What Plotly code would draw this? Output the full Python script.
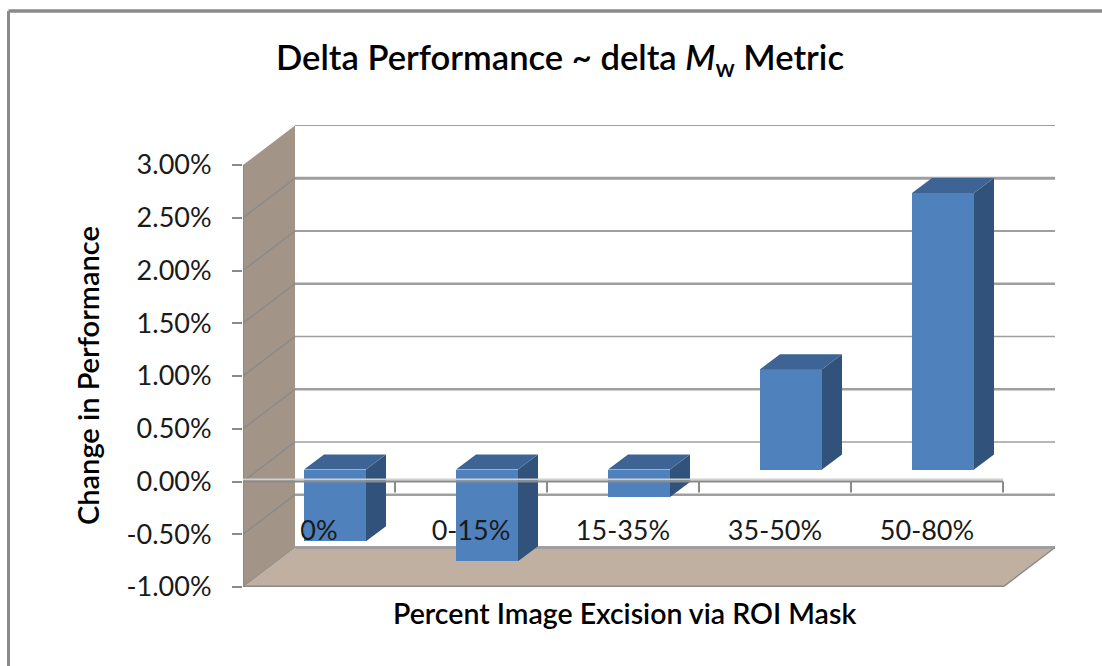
import plotly.graph_objects as go

# ---- data ----
categories = ["0%", "0-15%", "15-35%", "35-50%", "50-80%"]
values = [-0.0068, -0.0087, -0.0026, 0.0095, 0.0262]
y_ticks = [-0.01, -0.005, 0.0, 0.005, 0.01, 0.015, 0.02, 0.025, 0.03]
y_tick_labels = ["-1.00%", "-0.50%", "0.00%", "0.50%", "1.00%", "1.50%", "2.00%", "2.50%", "3.00%"]
title_text = "Delta Performance ~ delta <i>M</i><sub>w</sub> Metric"
x_title = "Percent Image Excision via ROI Mask"
y_title = "Change in Performance"

# ---- oblique projection constants (axis units) ----
W, H = 1102, 666
L, R, T, B = 243, 1060, 120, 587
PX_CAT = 152.0
PX_UNIT = 105.5 / 0.01
n = len(categories)
X_MAX = (R - L) / PX_CAT
Y_MIN = -0.01
Y_MAX = Y_MIN + (B - T) / PX_UNIT
WALL_DX = 52 / PX_CAT
WALL_DY = 39.5 / PX_UNIT
BAR_OFF_X = 16 / PX_CAT
BAR_OFF_Y = 12 / PX_UNIT
BAR_W = 62 / PX_CAT
BAR_DX = 20 / PX_CAT
BAR_DY = 15 / PX_UNIT

FRONT, SIDE, TOP = "#4F81BD", "#31527A", "#3D6494"
WALL, FLOOR, GRID = "#A29588", "#BFB0A2", "#9F9F9F"
AXIS = "#8A8A8A"
FONT = "Lato"
GRID_WIDTHS = [2.5, 1.5, 2.5, 1.5, 2.5, 2, 3, 1]

xc = [i + 0.5 + BAR_OFF_X for i in range(n)]

side_x, side_y, top_x, top_y = [], [], [], []
for c, v in zip(xc, values):
    x0, x1 = c - BAR_W / 2, c + BAR_W / 2
    lo, hi = min(0, v) + BAR_OFF_Y, max(0, v) + BAR_OFF_Y
    side_x += [x1, x1 + BAR_DX, x1 + BAR_DX, x1, x1, None]
    side_y += [lo, lo + BAR_DY, hi + BAR_DY, hi, lo, None]
    top_x += [x0, x0 + BAR_DX, x1 + BAR_DX, x1, x0, None]
    top_y += [hi, hi + BAR_DY, hi + BAR_DY, hi, hi, None]

fig = go.Figure()
fig.add_trace(go.Bar(x=xc, y=values, base=[BAR_OFF_Y] * n, width=BAR_W,
                     marker=dict(color=FRONT, line=dict(width=0)),
                     showlegend=False, hoverinfo="skip"))
fig.add_trace(go.Scatter(x=side_x, y=side_y, mode="lines", fill="toself", fillcolor=SIDE,
                         line=dict(width=0, color=SIDE), showlegend=False, hoverinfo="skip"))
fig.add_trace(go.Scatter(x=top_x, y=top_y, mode="lines", fill="toself", fillcolor=TOP,
                         line=dict(width=0, color=TOP), showlegend=False, hoverinfo="skip"))


def poly(pts):
    return "M " + " L ".join(f"{x},{y}" for x, y in pts) + " Z"


shapes = []
# back-wall gridlines
for t, lw in zip(y_ticks[1:], GRID_WIDTHS):
    shapes.append(dict(type="line", layer="below", xref="x", yref="y",
                       x0=WALL_DX, x1=n + WALL_DX, y0=t + WALL_DY, y1=t + WALL_DY,
                       line=dict(color=GRID, width=lw)))
# left wall
shapes.append(dict(type="path", layer="below", xref="x", yref="y",
                   path=poly([(0, Y_MIN), (WALL_DX, Y_MIN + WALL_DY),
                              (WALL_DX, y_ticks[-1] + WALL_DY), (0, y_ticks[-1])]),
                   fillcolor=WALL, line=dict(width=0)))
# diagonal wall grid
for t in y_ticks[:-1]:
    shapes.append(dict(type="line", layer="below", xref="x", yref="y",
                       x0=0, x1=WALL_DX, y0=t, y1=t + WALL_DY,
                       line=dict(color="#8A8A8A", width=1.5)))
# floor
shapes.append(dict(type="path", layer="below", xref="x", yref="y",
                   path=poly([(0, Y_MIN), (WALL_DX, Y_MIN + WALL_DY),
                              (n + WALL_DX, Y_MIN + WALL_DY), (n, Y_MIN)]),
                   fillcolor=FLOOR, line=dict(width=0)))
# floor edges
shapes.append(dict(type="line", layer="below", xref="x", yref="y", x0=WALL_DX, x1=n + WALL_DX,
                   y0=Y_MIN + WALL_DY, y1=Y_MIN + WALL_DY, line=dict(color=GRID, width=3)))
shapes.append(dict(type="line", layer="below", xref="x", yref="y", x0=n, x1=n + WALL_DX,
                   y0=Y_MIN, y1=Y_MIN + WALL_DY, line=dict(color=AXIS, width=1.5)))
shapes.append(dict(type="line", layer="below", xref="x", yref="y", x0=0, x1=n,
                   y0=Y_MIN, y1=Y_MIN, line=dict(color=AXIS, width=3)))
# front vertical axis
shapes.append(dict(type="line", layer="below", xref="x", yref="y", x0=0, x1=0,
                   y0=Y_MIN, y1=y_ticks[-1], line=dict(color=AXIS, width=2)))
# zero axis with category ticks, above the bars
shapes.append(dict(type="line", layer="above", xref="x", yref="y", x0=0, x1=n,
                   y0=2 / PX_UNIT, y1=2 / PX_UNIT, line=dict(color="#CFCFCF", width=2)))
shapes.append(dict(type="line", layer="above", xref="x", yref="y", x0=0, x1=n, y0=0, y1=0,
                   line=dict(color=AXIS, width=2)))
for i in range(n + 1):
    shapes.append(dict(type="line", layer="above", xref="x", yref="y", x0=i, x1=i,
                       y0=0, y1=-11 / PX_UNIT, line=dict(color=AXIS, width=2)))
# chart border (left and top edges; the rest is cropped away)
pw, ph = R - L, B - T
shapes.append(dict(type="line", xref="paper", yref="paper", x0=(8.5 - L) / pw, x1=(8.5 - L) / pw,
                   y0=(B - H) / ph, y1=(B - 11) / ph, line=dict(color=AXIS, width=3)))
shapes.append(dict(type="line", xref="paper", yref="paper", x0=(8.5 - L) / pw, x1=(W - L) / pw,
                   y0=(B - 11) / ph, y1=(B - 11) / ph, line=dict(color=AXIS, width=3.5)))

annotations = [
    dict(text=x_title, xref="paper", yref="paper", x=(624 - L) / pw, y=(B - 613) / ph,
         xanchor="center", yanchor="middle", showarrow=False,
         font=dict(family=FONT, size=28.5, color="black", weight=600)),
    dict(text=y_title, xref="paper", yref="paper", x=(87 - L) / pw, y=(B - 376) / ph,
         xanchor="center", yanchor="middle", textangle=-90, showarrow=False,
         font=dict(family=FONT, size=29, color="black", weight=600)),
]

fig.update_layout(
    width=W, height=H, template=None, paper_bgcolor="white", plot_bgcolor="white",
    margin=dict(l=L, r=W - R, t=T, b=H - B, pad=0), shapes=shapes, annotations=annotations,
    font=dict(family=FONT, color="#1A1A1A", size=27), bargap=0, showlegend=False,
    title=dict(text=title_text, x=560 / W, xanchor="center", y=1 - 58 / H, yanchor="middle",
               font=dict(family=FONT, size=34.6, color="black", weight=600)),
    xaxis=dict(range=[0, X_MAX], anchor="free", position=(B - 481.5) / ph, showgrid=False,
               zeroline=False, showline=False, ticks="",
               tickmode="array", tickvals=[i + 0.5 for i in range(n)], ticktext=categories,
               ticklabelstandoff=30, tickfont=dict(size=27, family=FONT, color="#1A1A1A")),
    yaxis=dict(range=[Y_MIN, Y_MAX], showgrid=False, zeroline=False, showline=False,
               tickmode="array", tickvals=y_ticks, ticktext=y_tick_labels, ticks="outside",
               ticklen=10, tickwidth=2, tickcolor=AXIS, ticklabelstandoff=15,
               tickfont=dict(size=27, family=FONT, color="#1A1A1A")),
)

fig.write_html("out.html", config={"displayModeBar": False},
               post_script="document.body.style.margin='0';")
